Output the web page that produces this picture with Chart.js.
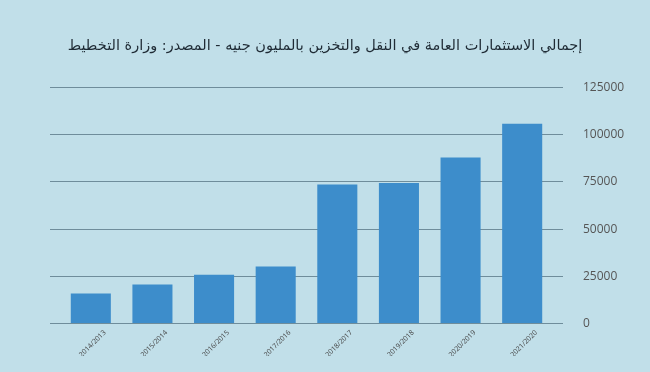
<!DOCTYPE html>
<html><head><meta charset="utf-8">
<script src="https://cdn.jsdelivr.net/npm/chart.js@4"></script>
<style>html,body{margin:0;padding:0;background:#c1dfe9;}#w{width:650px;height:372px;}</style>
</head><body><div id="w"><canvas id="c"></canvas></div>
<script>
const categories = ["2014/2013","2015/2014","2016/2015","2017/2016","2018/2017","2019/2018","2020/2019","2021/2020"];
const values = [15900, 20700, 25800, 30200, 73600, 74400, 87900, 105800];
const yTicks = [0, 25000, 50000, 75000, 100000, 125000];
const title = "إجمالي الاستثمارات العامة في النقل والتخزين بالمليون جنيه - المصدر: وزارة التخطيط";

const gridColor = "#6f8d9b";
new Chart(document.getElementById('c'), {
  type: 'bar',
  data: { labels: categories, datasets: [{ data: values, backgroundColor: '#3d8dcb', barPercentage: 0.65, categoryPercentage: 1 }] },
  options: {
    responsive: true, maintainAspectRatio: false, animation: false,
    layout: { padding: { left: 0, right: 0, top: 0, bottom: 16 } },
    plugins: {
      legend: { display: false }, tooltip: { enabled: false },
      title: { display: true, text: title, color: '#1f2b35', font: { family: 'DejaVu Sans', size: 14.5, weight: 'normal' }, padding: { top: 38, bottom: 32 } }
    },
    scales: {
      x: { grid: { display: false }, border: { display: false },
           ticks: { minRotation: 45, maxRotation: 45, color: '#444', font: { family: 'Open Sans', size: 7 }, padding: -3, labelOffset: 14 } },
      y: { position: 'right', min: 0, max: 125000, afterBuildTicks: s => { s.ticks = yTicks.map(v => ({ value: v })); },
           afterFit: s => { s.width = 97; },
           grid: { color: gridColor, lineWidth: 1, tickLength: 10 }, border: { display: false },
           ticks: { color: '#555', font: { family: 'Open Sans', size: 12 }, padding: 20, callback: v => String(v) } },
      y2: { position: 'left', min: 0, max: 125000, afterBuildTicks: s => { s.ticks = yTicks.map(v => ({ value: v })); },
           afterFit: s => { s.width = 60; },
           grid: { color: gridColor, lineWidth: 1, tickLength: 10, drawOnChartArea: false }, border: { display: false },
           ticks: { display: false } }
    }
  }
});
</script></body></html>
